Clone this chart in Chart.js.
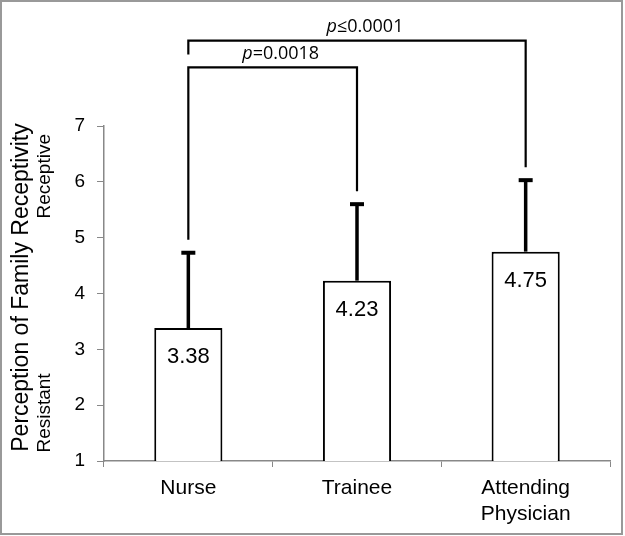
<!DOCTYPE html>
<html>
<head>
<meta charset="utf-8">
<script src="https://cdn.jsdelivr.net/npm/chart.js@4.4.1/dist/chart.umd.min.js"></script>
<style>
  body { margin: 0; background: #fff; }
  #wrap { position: relative; width: 625px; height: 536px; }
  #myChart { display: block; }
  #frame { position: absolute; left: 0; top: 0; width: 619px; height: 531px; border: 2px solid #999; pointer-events: none; }
</style>
</head>
<body>
<div id="wrap">
  <canvas id="myChart" width="625" height="536"></canvas>
  <div id="frame"></div>
</div>
<script>
// Values
const categories = ["Nurse", "Trainee", ["Attending", "Physician"]];
const meanScores = [3.38, 4.23, 4.75];
const sdValues = [1.35, 1.37, 1.28];
const yTicks = [1, 2, 3, 4, 5, 6, 7];

// significance brackets: which bars they join, the p text and the height (in y units)
const pFrom = [0, 0];
const pTo = [1, 2];
const pTexts = ["=0.0018", "≤0.0001"];
const pLevels = [8.05, 8.53];

const sansFont = '"Liberation Sans", Arial, sans-serif';
const pFont = '"Open Sans", "Noto Sans", sans-serif';

const extrasPlugin = {
  id: "extras",
  afterDatasetsDraw(chart) {
    const ctx = chart.ctx;
    const y = chart.scales.y;
    const meta = chart.getDatasetMeta(0);
    const gap = 13;
    ctx.save();
    ctx.strokeStyle = "#000";
    ctx.fillStyle = "#000";

    // upper error bars and value labels inside the bars
    meta.data.forEach((bar, i) => {
      const top = y.getPixelForValue(meanScores[i] + sdValues[i]);
      ctx.lineWidth = 3.5;
      ctx.beginPath();
      ctx.moveTo(bar.x, bar.y);
      ctx.lineTo(bar.x, top);
      ctx.stroke();
      ctx.lineWidth = 4;
      ctx.beginPath();
      ctx.moveTo(bar.x - 7, top);
      ctx.lineTo(bar.x + 7, top);
      ctx.stroke();

      ctx.font = "22px " + sansFont;
      ctx.textAlign = "center";
      ctx.textBaseline = "middle";
      ctx.fillText(meanScores[i].toFixed(2), bar.x, bar.y + 29);
    });

    // where a bracket leg stops: just above the error bar or a lower bracket
    function legEnd(i, level) {
      let v = meanScores[i] + sdValues[i];
      pLevels.forEach((l, k) => {
        if (l < level && (pFrom[k] === i || pTo[k] === i) && l > v) v = l;
      });
      return y.getPixelForValue(v) - gap;
    }

    pLevels.forEach((level, k) => {
      const yl = y.getPixelForValue(level);
      const x1 = meta.data[pFrom[k]].x;
      const x2 = meta.data[pTo[k]].x;
      ctx.lineWidth = 2.2;
      ctx.beginPath();
      ctx.moveTo(x1, legEnd(pFrom[k], level));
      ctx.lineTo(x1, yl);
      ctx.lineTo(x2, yl);
      ctx.lineTo(x2, legEnd(pTo[k], level));
      ctx.stroke();

      // italic p followed by the value
      ctx.textBaseline = "middle";
      ctx.textAlign = "left";
      ctx.font = "italic 18px " + pFont;
      const wp = ctx.measureText("p").width;
      ctx.font = "18px " + pFont;
      const wr = ctx.measureText(pTexts[k]).width;
      const cx = (x1 + x2) / 2 + 8;
      const sx = cx - (wp + wr) / 2;
      const ty = yl - 14;
      ctx.font = "italic 18px " + pFont;
      ctx.fillText("p", sx, ty);
      ctx.font = "18px " + pFont;
      ctx.fillText(pTexts[k], sx + wp, ty);
    });

    // y axis titles
    const area = chart.chartArea;
    ctx.textAlign = "center";
    ctx.textBaseline = "middle";
    ctx.save();
    ctx.translate(22, (area.top + area.bottom) / 2 - 6);
    ctx.rotate(-Math.PI / 2);
    ctx.font = "23px " + sansFont;
    ctx.fillText("Perception of Family Receptivity", 0, 0);
    ctx.restore();

    ctx.font = "19px " + sansFont;
    [["Receptive", 6.1], ["Resistant", 1.86]].forEach(([t, v]) => {
      ctx.save();
      ctx.translate(45, y.getPixelForValue(v));
      ctx.rotate(-Math.PI / 2);
      ctx.fillText(t, 0, 0);
      ctx.restore();
    });

    ctx.restore();
  }
};

const ctx = document.getElementById("myChart").getContext("2d");
new Chart(ctx, {
  type: "bar",
  data: {
    labels: categories,
    datasets: [
      {
        data: meanScores,
        backgroundColor: "#fff",
        borderColor: "#000",
        borderWidth: 2,
        barPercentage: 0.404,
        categoryPercentage: 1,
      },
    ],
  },
  options: {
    responsive: false,
    animation: false,
    layout: { padding: { top: 126, right: 15, left: 0, bottom: 0 } },
    plugins: {
      legend: { display: false },
      tooltip: { enabled: false },
    },
    scales: {
      x: {
        offset: true,
        grid: { display: true, drawOnChartArea: false, offset: true, tickLength: 6, color: "#888" },
        border: { color: "#888", width: 1.5 },
        ticks: { color: "#000", font: { family: sansFont, size: 21, lineHeight: 1.25 }, padding: 8, maxRotation: 0 },
        afterFit(scale) { scale.height = 75; },
      },
      y: {
        min: 1,
        max: 7,
        afterBuildTicks(scale) { scale.ticks = yTicks.map((v) => ({ value: v })); },
        grid: { drawOnChartArea: false, tickLength: 7, color: "#888" },
        border: { color: "#888", width: 1.5 },
        ticks: { color: "#000", font: { family: sansFont, size: 19 }, padding: 12 },
        afterFit(scale) { scale.width = 104; },
      },
    },
  },
  plugins: [extrasPlugin],
});
</script>
</body>
</html>
